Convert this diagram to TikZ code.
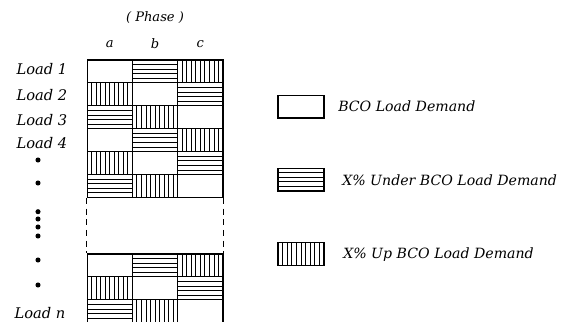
\documentclass[tikz,border=0pt]{standalone}
\usepackage{fontspec}
\setmainfont{DejaVu Serif}
\usetikzlibrary{calc}
\begin{document}
\begin{tikzpicture}[x=0.75pt,y=-0.75pt,
  cellbox/.style={draw,line width=0.8pt,rectangle,inner sep=0pt,minimum width=34pt,minimum height=17.2pt},
  legbox/.style={draw,line width=0.8pt,rectangle,inner sep=0pt,minimum width=34.5pt,minimum height=17.2pt},
  hlines/.style={path picture={\foreach \k in {1,...,4}{\draw[line width=0.6pt] ($(path picture bounding box.north west)!\k/5!(path picture bounding box.south west)$) -- ($(path picture bounding box.north east)!\k/5!(path picture bounding box.south east)$);}}},
  vlines/.style={path picture={\foreach \k in {1,...,9}{\draw[line width=0.6pt] ($(path picture bounding box.north west)!\k/10!(path picture bounding box.north east)$) -- ($(path picture bounding box.south west)!\k/10!(path picture bounding box.south east)$);}}},
  lbl/.style={font=\itshape\fontsize{11}{13}\selectfont,inner sep=0pt},
  leg/.style={font=\itshape\fontsize{10.6}{12}\selectfont,inner sep=0pt,anchor=west},
  hdr/.style={font=\itshape\fontsize{9.8}{11}\selectfont,inner sep=0pt},
  dot/.style={circle,fill,inner sep=0pt,minimum size=3.8pt}
]
\useasboundingbox (0,0) rectangle (573,321);
\def\xa{109.7}\def\xb{155}\def\xc{200.3}
% 0 = blank, 1 = horizontal lines, 2 = vertical lines
\foreach \r/\y/\pa/\pb/\pc in {1/71.45/0/1/2, 2/94.35/2/0/1, 3/117.25/1/2/0, 4/140.15/0/1/2, 5/163.05/2/0/1, 6/185.95/1/2/0, 7/265.45/0/1/2, 8/288.35/2/0/1, 9/311.25/1/2/0}{
  \foreach \col/\x/\p in {a/\xa/\pa, b/\xb/\pb, c/\xc/\pc}{
    \ifnum\p=0
      \node[cellbox] (r\r\col) at (\x,\y) {};
    \else\ifnum\p=1
      \node[cellbox,hlines] (r\r\col) at (\x,\y) {};
    \else
      \node[cellbox,vlines] (r\r\col) at (\x,\y) {};
    \fi\fi
  }
}
\draw[line width=0.8pt,dash pattern=on 4.5pt off 3.5pt] (r6a.south west) -- (r7a.north west);
\draw[line width=0.8pt,dash pattern=on 4.5pt off 3.5pt] (r6c.south east) -- (r7c.north east);
% header
\node[hdr] (phase) at (155,18) {( Phase )};
\node[hdr] (ha) at (\xa,44) {a};
\node[hdr] (hb) at (\xb,44) {b};
\node[hdr] (hc) at (\xc,44) {c};
% labels
\node[lbl] (l1) at (42,69) {Load 1};
\node[lbl] (l2) at (42,95) {Load 2};
\node[lbl] (l3) at (42,120) {Load 3};
\node[lbl] (l4) at (42,143) {Load 4};
\node[lbl] (ln) at (40,313) {Load n};
\foreach \i/\y in {1/160,2/183,3/211.7,4/219,5/227,6/236,7/260,8/285}
  \node[dot] (d\i) at (38,\y) {};
% legend
\node[legbox] (k1) at (301,106.5) {};
\node[legbox,hlines] (k2) at (301,179.5) {};
\node[legbox,vlines] (k3) at (301,254) {};
\node[leg] (t1) at (338,106) {BCO Load Demand};
\node[leg] (t2) at (342,180) {X\% Under BCO Load Demand};
\node[leg] (t3) at (343,255) {X\% Up BCO Load Demand};
\end{tikzpicture}
\end{document}
